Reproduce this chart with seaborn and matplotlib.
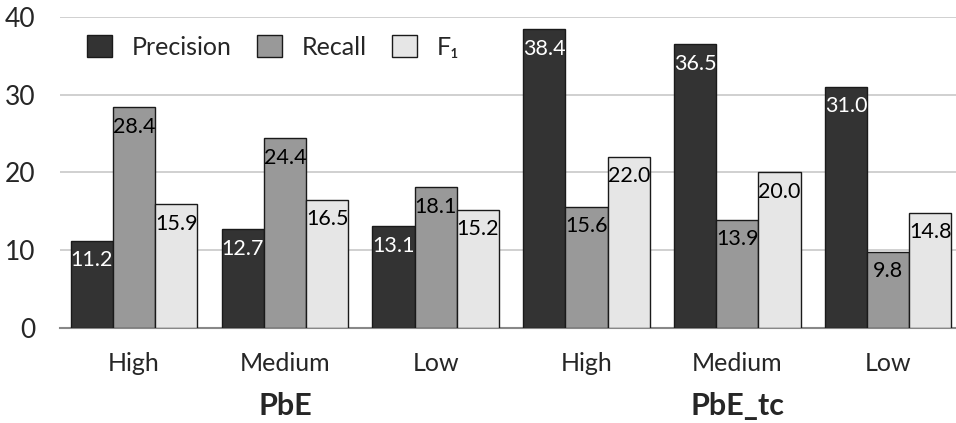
import pandas as pd
import matplotlib.pyplot as plt
import seaborn as sns
from matplotlib.patches import Patch

# Data
levels = ['High', 'Medium', 'Low', 'High', 'Medium', 'Low']
methods = ['PbE', 'PbE_tc']
precision = [11.2, 12.7, 13.1, 38.4, 36.5, 31.0]
recall = [28.4, 24.4, 18.1, 15.6, 13.9, 9.8]
f1 = [15.9, 16.5, 15.2, 22.0, 20.0, 14.8]
series = ['Precision', 'Recall', 'F\u2081']
colors = ['#333333', '#999999', '#e6e6e6']

keys = [f'{m} {l}' for m in methods for l in ['High', 'Medium', 'Low']]
df = pd.DataFrame({
    'key': keys * 3,
    'metric': [series[0]] * 6 + [series[1]] * 6 + [series[2]] * 6,
    'value': precision + recall + f1,
})

sns.set_style('white')
plt.rcParams['font.family'] = ['Lato', 'DejaVu Sans']

fig = plt.figure(figsize=(9.56, 4.23), dpi=100)
ax = fig.add_axes([0.063, 0.2246, 0.937, 0.7352])

sns.barplot(data=df, x='key', y='value', hue='metric', order=keys, hue_order=series,
            palette=colors, width=0.84, edgecolor='#1a1a1a', linewidth=1,
            saturation=1, legend=False, ax=ax, zorder=3)

# value labels inside bars near the top
for cont, col in zip(ax.containers, ['white', 'black', 'black']):
    for bar in cont:
        h = bar.get_height()
        ax.annotate(f'{h:.1f}', (bar.get_x() + bar.get_width() / 2, h),
                    xytext=(0, -14), textcoords='offset points',
                    ha='center', va='center', fontsize=15.5, color=col, zorder=4)

ax.set_ylim(0, 40)
ax.set_xlim(-0.49, 5.45)
ax.set_yticks([0, 10, 20, 30, 40])
ax.yaxis.grid(True, color='#c8c8c8', linewidth=1.2, zorder=0)
ax.tick_params(axis='y', labelsize=19, length=0, pad=18)
ax.tick_params(axis='x', labelsize=18, length=0, pad=17)
ax.set_xticks(range(6))
ax.set_xticklabels(levels)
ax.set_xlabel('')
ax.set_ylabel('')
for s in ['top', 'right', 'left']:
    ax.spines[s].set_visible(False)
ax.spines['bottom'].set_color('#888888')
ax.spines['bottom'].set_linewidth(1.5)

# group labels
for i, m in enumerate(methods):
    ax.text(1 + 3 * i, -10.0, m, ha='center', va='center', fontsize=22,
            fontweight='bold', transform=ax.transData, clip_on=False)

handles = [Patch(facecolor=c, edgecolor='#1a1a1a', linewidth=1) for c in colors]
ax.legend(handles, series, loc='upper left', bbox_to_anchor=(0.005, 1.015), ncol=3,
          frameon=False, fontsize=18, handlelength=1.0, handleheight=1.0,
          columnspacing=1.0, handletextpad=0.8)

fig.savefig('out.png', dpi=100)
